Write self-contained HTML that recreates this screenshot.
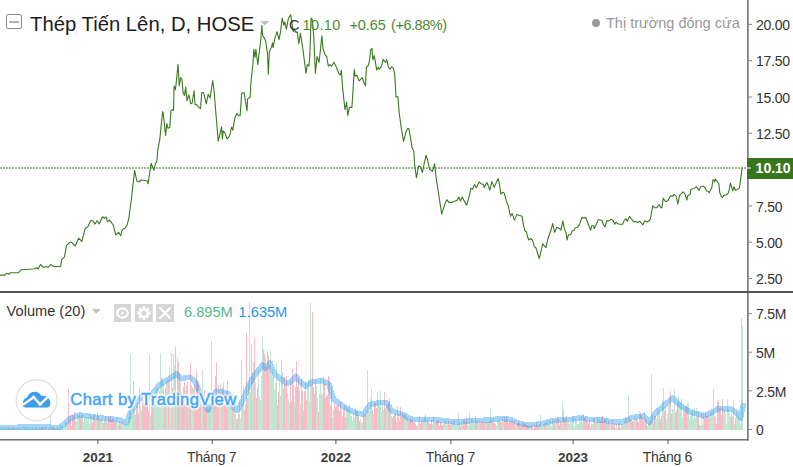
<!DOCTYPE html><html><head><meta charset="utf-8"><style>
*{margin:0;padding:0;box-sizing:border-box}
html,body{width:793px;height:467px;overflow:hidden;background:#fff}
body{position:relative;font-family:"Liberation Sans",sans-serif}
.t{position:absolute;white-space:nowrap;line-height:1}
</style></head><body>
<svg width="793" height="467" viewBox="0 0 793 467" style="position:absolute;left:0;top:0">
<circle cx="36.7" cy="400.25" r="20.5" fill="#fff" stroke="#e2e2e2" stroke-width="1.3"/>
<path d="M25.5 407.4 C23.5 407.4 22.6 405.6 22.8 403.4 C23 400.3 24.5 398.4 27 397.6 C28.3 394.6 31 391.8 34.8 391.8 C37.8 391.8 40 393.4 41.4 396.1 C42.6 395.5 44.6 395.5 46.3 396.6 C48.8 398 50.4 400.4 50.4 403 C50.4 405.6 49.4 407.4 47.6 407.4 Z" fill="#3d9ee9"/>
<path d="M23.2 404.6 L33.7 397.2 L40.1 404.3 L47.5 397.3" fill="none" stroke="#fff" stroke-width="2.3" stroke-linejoin="round"/>
<circle cx="33.7" cy="397.3" r="1.7" fill="#fff"/><circle cx="40.1" cy="404.3" r="1.7" fill="#fff"/>
<g shape-rendering="crispEdges"><rect x="0" y="427.6" width="1" height="2.8" fill="#c3e6d3"/><rect x="1" y="427.3" width="1" height="3.1" fill="#c3e6d3"/><rect x="2" y="428.2" width="1" height="2.2" fill="#c3e6d3"/><rect x="3" y="428.0" width="1" height="2.4" fill="#c3e6d3"/><rect x="4" y="427.2" width="1" height="3.2" fill="#c3e6d3"/><rect x="5" y="428.0" width="1" height="2.4" fill="#c3e6d3"/><rect x="6" y="427.8" width="1" height="2.6" fill="#c3e6d3"/><rect x="7" y="427.0" width="1" height="3.4" fill="#c3e6d3"/><rect x="8" y="427.0" width="1" height="3.4" fill="#f7bcc5"/><rect x="9" y="428.1" width="1" height="2.3" fill="#f7bcc5"/><rect x="10" y="427.8" width="1" height="2.6" fill="#c3e6d3"/><rect x="11" y="427.8" width="1" height="2.6" fill="#c3e6d3"/><rect x="12" y="427.2" width="1" height="3.2" fill="#f7bcc5"/><rect x="13" y="427.7" width="1" height="2.7" fill="#c3e6d3"/><rect x="14" y="426.7" width="1" height="3.7" fill="#c3e6d3"/><rect x="15" y="427.7" width="1" height="2.7" fill="#c3e6d3"/><rect x="16" y="428.0" width="1" height="2.4" fill="#c3e6d3"/><rect x="17" y="427.6" width="1" height="2.8" fill="#c3e6d3"/><rect x="18" y="427.7" width="1" height="2.7" fill="#c3e6d3"/><rect x="19" y="428.1" width="1" height="2.3" fill="#c3e6d3"/><rect x="20" y="427.7" width="1" height="2.7" fill="#c3e6d3"/><rect x="21" y="427.4" width="1" height="3.0" fill="#c3e6d3"/><rect x="22" y="428.7" width="1" height="1.7" fill="#c3e6d3"/><rect x="23" y="425.8" width="1" height="4.6" fill="#c3e6d3"/><rect x="24" y="426.2" width="1" height="4.2" fill="#c3e6d3"/><rect x="25" y="427.7" width="1" height="2.7" fill="#c3e6d3"/><rect x="26" y="425.8" width="1" height="4.6" fill="#c3e6d3"/><rect x="27" y="427.5" width="1" height="2.9" fill="#c3e6d3"/><rect x="28" y="426.6" width="1" height="3.8" fill="#c3e6d3"/><rect x="29" y="428.6" width="1" height="1.8" fill="#c3e6d3"/><rect x="30" y="427.2" width="1" height="3.2" fill="#c3e6d3"/><rect x="31" y="429.0" width="1" height="1.4" fill="#c3e6d3"/><rect x="32" y="426.7" width="1" height="3.7" fill="#c3e6d3"/><rect x="33" y="428.7" width="1" height="1.7" fill="#c3e6d3"/><rect x="34" y="428.2" width="1" height="2.2" fill="#c3e6d3"/><rect x="35" y="427.4" width="1" height="3.0" fill="#c3e6d3"/><rect x="36" y="426.5" width="1" height="3.9" fill="#c3e6d3"/><rect x="37" y="427.9" width="1" height="2.5" fill="#f7bcc5"/><rect x="38" y="429.0" width="1" height="1.4" fill="#c3e6d3"/><rect x="39" y="427.3" width="1" height="3.1" fill="#c3e6d3"/><rect x="40" y="428.1" width="1" height="2.3" fill="#c3e6d3"/><rect x="41" y="427.1" width="1" height="3.3" fill="#f7bcc5"/><rect x="42" y="427.9" width="1" height="2.5" fill="#f7bcc5"/><rect x="43" y="427.2" width="1" height="3.2" fill="#f7bcc5"/><rect x="44" y="428.5" width="1" height="1.9" fill="#c3e6d3"/><rect x="45" y="427.1" width="1" height="3.3" fill="#c3e6d3"/><rect x="46" y="426.5" width="1" height="3.9" fill="#c3e6d3"/><rect x="47" y="429.5" width="1" height="0.9" fill="#f7bcc5"/><rect x="48" y="427.8" width="1" height="2.6" fill="#f7bcc5"/><rect x="49" y="427.1" width="1" height="3.3" fill="#c3e6d3"/><rect x="50" y="415.0" width="1" height="15.4" fill="#c3e6d3"/><rect x="51" y="427.7" width="1" height="2.7" fill="#f7bcc5"/><rect x="52" y="427.2" width="1" height="3.2" fill="#f7bcc5"/><rect x="53" y="427.1" width="1" height="3.3" fill="#f7bcc5"/><rect x="54" y="428.0" width="1" height="2.4" fill="#f7bcc5"/><rect x="55" y="427.7" width="1" height="2.7" fill="#c3e6d3"/><rect x="56" y="427.7" width="1" height="2.7" fill="#c3e6d3"/><rect x="57" y="427.4" width="1" height="3.0" fill="#c3e6d3"/><rect x="58" y="427.7" width="1" height="2.7" fill="#c3e6d3"/><rect x="59" y="427.9" width="1" height="2.5" fill="#c3e6d3"/><rect x="60" y="425.2" width="1" height="5.2" fill="#c3e6d3"/><rect x="61" y="426.7" width="1" height="3.7" fill="#c3e6d3"/><rect x="62" y="425.5" width="1" height="4.9" fill="#c3e6d3"/><rect x="63" y="427.8" width="1" height="2.6" fill="#c3e6d3"/><rect x="64" y="426.5" width="1" height="3.9" fill="#c3e6d3"/><rect x="65" y="421.9" width="1" height="8.5" fill="#c3e6d3"/><rect x="66" y="422.9" width="1" height="7.5" fill="#c3e6d3"/><rect x="67" y="424.9" width="1" height="5.5" fill="#c3e6d3"/><rect x="68" y="389.3" width="1" height="41.1" fill="#f7bcc5"/><rect x="69" y="418.9" width="1" height="11.5" fill="#c3e6d3"/><rect x="70" y="415.6" width="1" height="14.8" fill="#f7bcc5"/><rect x="71" y="426.2" width="1" height="4.2" fill="#f7bcc5"/><rect x="72" y="414.8" width="1" height="15.6" fill="#f7bcc5"/><rect x="73" y="416.7" width="1" height="13.7" fill="#f7bcc5"/><rect x="74" y="412.3" width="1" height="18.1" fill="#f7bcc5"/><rect x="75" y="419.2" width="1" height="11.2" fill="#c3e6d3"/><rect x="76" y="422.0" width="1" height="8.4" fill="#c3e6d3"/><rect x="77" y="415.1" width="1" height="15.3" fill="#c3e6d3"/><rect x="78" y="415.6" width="1" height="14.8" fill="#c3e6d3"/><rect x="79" y="413.6" width="1" height="16.8" fill="#f7bcc5"/><rect x="80" y="417.2" width="1" height="13.2" fill="#f7bcc5"/><rect x="81" y="415.0" width="1" height="15.4" fill="#f7bcc5"/><rect x="82" y="414.0" width="1" height="16.4" fill="#c3e6d3"/><rect x="83" y="421.5" width="1" height="8.9" fill="#c3e6d3"/><rect x="84" y="418.1" width="1" height="12.3" fill="#c3e6d3"/><rect x="85" y="416.8" width="1" height="13.6" fill="#c3e6d3"/><rect x="86" y="417.2" width="1" height="13.2" fill="#c3e6d3"/><rect x="87" y="419.7" width="1" height="10.7" fill="#c3e6d3"/><rect x="88" y="417.4" width="1" height="13.0" fill="#c3e6d3"/><rect x="89" y="422.8" width="1" height="7.6" fill="#c3e6d3"/><rect x="90" y="414.3" width="1" height="16.1" fill="#c3e6d3"/><rect x="91" y="415.6" width="1" height="14.8" fill="#f7bcc5"/><rect x="92" y="423.4" width="1" height="7.0" fill="#f7bcc5"/><rect x="93" y="414.9" width="1" height="15.5" fill="#f7bcc5"/><rect x="94" y="415.0" width="1" height="15.4" fill="#f7bcc5"/><rect x="95" y="419.6" width="1" height="10.8" fill="#c3e6d3"/><rect x="96" y="418.4" width="1" height="12.0" fill="#c3e6d3"/><rect x="97" y="412.0" width="1" height="18.4" fill="#f7bcc5"/><rect x="98" y="416.1" width="1" height="14.3" fill="#f7bcc5"/><rect x="99" y="418.6" width="1" height="11.8" fill="#f7bcc5"/><rect x="100" y="420.8" width="1" height="9.6" fill="#c3e6d3"/><rect x="101" y="418.0" width="1" height="12.4" fill="#c3e6d3"/><rect x="102" y="421.0" width="1" height="9.4" fill="#c3e6d3"/><rect x="103" y="422.9" width="1" height="7.5" fill="#f7bcc5"/><rect x="104" y="419.5" width="1" height="10.9" fill="#f7bcc5"/><rect x="105" y="416.4" width="1" height="14.0" fill="#c3e6d3"/><rect x="106" y="420.7" width="1" height="9.7" fill="#c3e6d3"/><rect x="107" y="422.3" width="1" height="8.1" fill="#f7bcc5"/><rect x="108" y="416.8" width="1" height="13.6" fill="#f7bcc5"/><rect x="109" y="418.6" width="1" height="11.8" fill="#c3e6d3"/><rect x="110" y="416.3" width="1" height="14.1" fill="#f7bcc5"/><rect x="111" y="419.8" width="1" height="10.6" fill="#f7bcc5"/><rect x="112" y="418.8" width="1" height="11.6" fill="#f7bcc5"/><rect x="113" y="418.4" width="1" height="12.0" fill="#f7bcc5"/><rect x="114" y="422.1" width="1" height="8.3" fill="#f7bcc5"/><rect x="115" y="421.5" width="1" height="8.9" fill="#f7bcc5"/><rect x="116" y="417.3" width="1" height="13.1" fill="#c3e6d3"/><rect x="117" y="422.2" width="1" height="8.2" fill="#c3e6d3"/><rect x="118" y="424.7" width="1" height="5.7" fill="#c3e6d3"/><rect x="119" y="420.5" width="1" height="9.9" fill="#f7bcc5"/><rect x="120" y="423.3" width="1" height="7.1" fill="#f7bcc5"/><rect x="121" y="423.9" width="1" height="6.5" fill="#c3e6d3"/><rect x="122" y="421.1" width="1" height="9.3" fill="#c3e6d3"/><rect x="123" y="425.4" width="1" height="5.0" fill="#c3e6d3"/><rect x="124" y="423.0" width="1" height="7.4" fill="#c3e6d3"/><rect x="125" y="423.6" width="1" height="6.8" fill="#c3e6d3"/><rect x="126" y="423.9" width="1" height="6.5" fill="#c3e6d3"/><rect x="127" y="425.0" width="1" height="5.4" fill="#c3e6d3"/><rect x="128" y="416.7" width="1" height="13.7" fill="#c3e6d3"/><rect x="129" y="411.7" width="1" height="18.7" fill="#c3e6d3"/><rect x="130" y="354.0" width="1" height="76.4" fill="#c3e6d3"/><rect x="131" y="417.0" width="1" height="13.4" fill="#c3e6d3"/><rect x="132" y="415.0" width="1" height="15.4" fill="#c3e6d3"/><rect x="133" y="381.0" width="1" height="49.4" fill="#f7bcc5"/><rect x="134" y="408.8" width="1" height="21.6" fill="#c3e6d3"/><rect x="135" y="414.7" width="1" height="15.7" fill="#f7bcc5"/><rect x="136" y="405.8" width="1" height="24.6" fill="#f7bcc5"/><rect x="137" y="402.7" width="1" height="27.7" fill="#f7bcc5"/><rect x="138" y="413.3" width="1" height="17.1" fill="#f7bcc5"/><rect x="139" y="387.1" width="1" height="43.3" fill="#c3e6d3"/><rect x="140" y="406.4" width="1" height="24.0" fill="#c3e6d3"/><rect x="141" y="411.0" width="1" height="19.4" fill="#c3e6d3"/><rect x="142" y="396.8" width="1" height="33.6" fill="#f7bcc5"/><rect x="143" y="399.8" width="1" height="30.6" fill="#f7bcc5"/><rect x="144" y="403.7" width="1" height="26.7" fill="#f7bcc5"/><rect x="145" y="402.7" width="1" height="27.7" fill="#f7bcc5"/><rect x="146" y="403.9" width="1" height="26.5" fill="#f7bcc5"/><rect x="147" y="396.2" width="1" height="34.2" fill="#f7bcc5"/><rect x="148" y="410.9" width="1" height="19.5" fill="#f7bcc5"/><rect x="149" y="354.0" width="1" height="76.4" fill="#c3e6d3"/><rect x="150" y="416.4" width="1" height="14.0" fill="#c3e6d3"/><rect x="151" y="391.0" width="1" height="39.4" fill="#f7bcc5"/><rect x="152" y="393.2" width="1" height="37.2" fill="#f7bcc5"/><rect x="153" y="395.3" width="1" height="35.1" fill="#f7bcc5"/><rect x="154" y="397.7" width="1" height="32.7" fill="#c3e6d3"/><rect x="155" y="392.1" width="1" height="38.3" fill="#c3e6d3"/><rect x="156" y="388.5" width="1" height="41.9" fill="#c3e6d3"/><rect x="157" y="388.3" width="1" height="42.1" fill="#c3e6d3"/><rect x="158" y="398.2" width="1" height="32.2" fill="#c3e6d3"/><rect x="159" y="391.2" width="1" height="39.2" fill="#c3e6d3"/><rect x="160" y="353.0" width="1" height="77.4" fill="#c3e6d3"/><rect x="161" y="377.3" width="1" height="53.1" fill="#c3e6d3"/><rect x="162" y="378.1" width="1" height="52.3" fill="#c3e6d3"/><rect x="163" y="384.4" width="1" height="46.0" fill="#c3e6d3"/><rect x="164" y="397.9" width="1" height="32.5" fill="#f7bcc5"/><rect x="165" y="387.8" width="1" height="42.6" fill="#f7bcc5"/><rect x="166" y="382.3" width="1" height="48.1" fill="#c3e6d3"/><rect x="167" y="379.1" width="1" height="51.3" fill="#c3e6d3"/><rect x="168" y="380.2" width="1" height="50.2" fill="#f7bcc5"/><rect x="169" y="366.6" width="1" height="63.8" fill="#c3e6d3"/><rect x="170" y="406.8" width="1" height="23.6" fill="#c3e6d3"/><rect x="171" y="353.0" width="1" height="77.4" fill="#c3e6d3"/><rect x="172" y="387.7" width="1" height="42.7" fill="#f7bcc5"/><rect x="173" y="353.9" width="1" height="76.5" fill="#c3e6d3"/><rect x="174" y="365.9" width="1" height="64.5" fill="#c3e6d3"/><rect x="175" y="346.6" width="1" height="83.8" fill="#f7bcc5"/><rect x="176" y="400.2" width="1" height="30.2" fill="#c3e6d3"/><rect x="177" y="358.0" width="1" height="72.4" fill="#f7bcc5"/><rect x="178" y="362.0" width="1" height="68.4" fill="#f7bcc5"/><rect x="179" y="373.4" width="1" height="57.0" fill="#f7bcc5"/><rect x="180" y="381.9" width="1" height="48.5" fill="#c3e6d3"/><rect x="181" y="391.5" width="1" height="38.9" fill="#f7bcc5"/><rect x="182" y="401.3" width="1" height="29.1" fill="#f7bcc5"/><rect x="183" y="387.0" width="1" height="43.4" fill="#f7bcc5"/><rect x="184" y="381.7" width="1" height="48.7" fill="#f7bcc5"/><rect x="185" y="391.1" width="1" height="39.3" fill="#c3e6d3"/><rect x="186" y="385.5" width="1" height="44.9" fill="#f7bcc5"/><rect x="187" y="381.2" width="1" height="49.2" fill="#f7bcc5"/><rect x="188" y="397.2" width="1" height="33.2" fill="#c3e6d3"/><rect x="189" y="397.9" width="1" height="32.5" fill="#f7bcc5"/><rect x="190" y="363.2" width="1" height="67.2" fill="#f7bcc5"/><rect x="191" y="385.3" width="1" height="45.1" fill="#c3e6d3"/><rect x="192" y="386.7" width="1" height="43.7" fill="#c3e6d3"/><rect x="193" y="389.3" width="1" height="41.1" fill="#c3e6d3"/><rect x="194" y="385.3" width="1" height="45.1" fill="#f7bcc5"/><rect x="195" y="396.0" width="1" height="34.4" fill="#f7bcc5"/><rect x="196" y="369.9" width="1" height="60.5" fill="#f7bcc5"/><rect x="197" y="381.4" width="1" height="49.0" fill="#f7bcc5"/><rect x="198" y="384.1" width="1" height="46.3" fill="#f7bcc5"/><rect x="199" y="391.3" width="1" height="39.1" fill="#f7bcc5"/><rect x="200" y="396.1" width="1" height="34.3" fill="#f7bcc5"/><rect x="201" y="395.8" width="1" height="34.6" fill="#c3e6d3"/><rect x="202" y="369.5" width="1" height="60.9" fill="#c3e6d3"/><rect x="203" y="395.0" width="1" height="35.4" fill="#f7bcc5"/><rect x="204" y="390.2" width="1" height="40.2" fill="#f7bcc5"/><rect x="205" y="409.0" width="1" height="21.4" fill="#f7bcc5"/><rect x="206" y="405.0" width="1" height="25.4" fill="#f7bcc5"/><rect x="207" y="404.7" width="1" height="25.7" fill="#c3e6d3"/><rect x="208" y="407.9" width="1" height="22.5" fill="#c3e6d3"/><rect x="209" y="406.4" width="1" height="24.0" fill="#f7bcc5"/><rect x="210" y="403.6" width="1" height="26.8" fill="#c3e6d3"/><rect x="211" y="340.7" width="1" height="89.7" fill="#c3e6d3"/><rect x="212" y="396.1" width="1" height="34.3" fill="#c3e6d3"/><rect x="213" y="390.1" width="1" height="40.3" fill="#f7bcc5"/><rect x="214" y="396.6" width="1" height="33.8" fill="#f7bcc5"/><rect x="215" y="375.5" width="1" height="54.9" fill="#f7bcc5"/><rect x="216" y="362.0" width="1" height="68.4" fill="#f7bcc5"/><rect x="217" y="396.6" width="1" height="33.8" fill="#f7bcc5"/><rect x="218" y="385.0" width="1" height="45.4" fill="#f7bcc5"/><rect x="219" y="403.0" width="1" height="27.4" fill="#c3e6d3"/><rect x="220" y="382.6" width="1" height="47.8" fill="#c3e6d3"/><rect x="221" y="401.7" width="1" height="28.7" fill="#c3e6d3"/><rect x="222" y="387.1" width="1" height="43.3" fill="#f7bcc5"/><rect x="223" y="382.3" width="1" height="48.1" fill="#c3e6d3"/><rect x="224" y="395.2" width="1" height="35.2" fill="#f7bcc5"/><rect x="225" y="397.9" width="1" height="32.5" fill="#f7bcc5"/><rect x="226" y="391.0" width="1" height="39.4" fill="#f7bcc5"/><rect x="227" y="381.2" width="1" height="49.2" fill="#f7bcc5"/><rect x="228" y="396.0" width="1" height="34.4" fill="#c3e6d3"/><rect x="229" y="395.9" width="1" height="34.5" fill="#c3e6d3"/><rect x="230" y="398.7" width="1" height="31.7" fill="#c3e6d3"/><rect x="231" y="403.5" width="1" height="26.9" fill="#c3e6d3"/><rect x="232" y="393.6" width="1" height="36.8" fill="#f7bcc5"/><rect x="233" y="408.9" width="1" height="21.5" fill="#c3e6d3"/><rect x="234" y="405.3" width="1" height="25.1" fill="#c3e6d3"/><rect x="235" y="414.4" width="1" height="16.0" fill="#c3e6d3"/><rect x="236" y="419.3" width="1" height="11.1" fill="#c3e6d3"/><rect x="237" y="419.3" width="1" height="11.1" fill="#f7bcc5"/><rect x="238" y="413.8" width="1" height="16.6" fill="#f7bcc5"/><rect x="239" y="400.0" width="1" height="30.4" fill="#c3e6d3"/><rect x="240" y="418.5" width="1" height="11.9" fill="#c3e6d3"/><rect x="241" y="360.0" width="1" height="70.4" fill="#c3e6d3"/><rect x="242" y="403.1" width="1" height="27.3" fill="#c3e6d3"/><rect x="243" y="387.1" width="1" height="43.3" fill="#c3e6d3"/><rect x="244" y="410.1" width="1" height="20.3" fill="#f7bcc5"/><rect x="245" y="404.5" width="1" height="25.9" fill="#f7bcc5"/><rect x="246" y="333.0" width="1" height="97.4" fill="#f7bcc5"/><rect x="247" y="398.4" width="1" height="32.0" fill="#f7bcc5"/><rect x="248" y="383.0" width="1" height="47.4" fill="#c3e6d3"/><rect x="249" y="302.0" width="1" height="128.4" fill="#c3e6d3"/><rect x="250" y="392.0" width="1" height="38.4" fill="#c3e6d3"/><rect x="251" y="344.0" width="1" height="86.4" fill="#f7bcc5"/><rect x="252" y="372.9" width="1" height="57.5" fill="#c3e6d3"/><rect x="253" y="361.8" width="1" height="68.6" fill="#c3e6d3"/><rect x="254" y="338.0" width="1" height="92.4" fill="#f7bcc5"/><rect x="255" y="382.0" width="1" height="48.4" fill="#c3e6d3"/><rect x="256" y="397.6" width="1" height="32.8" fill="#f7bcc5"/><rect x="257" y="386.5" width="1" height="43.9" fill="#f7bcc5"/><rect x="258" y="369.5" width="1" height="60.9" fill="#c3e6d3"/><rect x="259" y="396.5" width="1" height="33.9" fill="#c3e6d3"/><rect x="260" y="399.8" width="1" height="30.6" fill="#c3e6d3"/><rect x="261" y="375.6" width="1" height="54.8" fill="#c3e6d3"/><rect x="262" y="336.1" width="1" height="94.3" fill="#c3e6d3"/><rect x="263" y="349.0" width="1" height="81.4" fill="#f7bcc5"/><rect x="264" y="352.5" width="1" height="77.9" fill="#f7bcc5"/><rect x="265" y="358.0" width="1" height="72.4" fill="#c3e6d3"/><rect x="266" y="367.4" width="1" height="63.0" fill="#f7bcc5"/><rect x="267" y="351.1" width="1" height="79.3" fill="#f7bcc5"/><rect x="268" y="355.5" width="1" height="74.9" fill="#f7bcc5"/><rect x="269" y="365.4" width="1" height="65.0" fill="#c3e6d3"/><rect x="270" y="349.9" width="1" height="80.5" fill="#c3e6d3"/><rect x="271" y="373.6" width="1" height="56.8" fill="#c3e6d3"/><rect x="272" y="369.0" width="1" height="61.4" fill="#c3e6d3"/><rect x="273" y="375.0" width="1" height="55.4" fill="#c3e6d3"/><rect x="274" y="390.0" width="1" height="40.4" fill="#c3e6d3"/><rect x="275" y="382.7" width="1" height="47.7" fill="#c3e6d3"/><rect x="276" y="363.0" width="1" height="67.4" fill="#c3e6d3"/><rect x="277" y="404.6" width="1" height="25.8" fill="#f7bcc5"/><rect x="278" y="391.9" width="1" height="38.5" fill="#f7bcc5"/><rect x="279" y="380.4" width="1" height="50.0" fill="#c3e6d3"/><rect x="280" y="395.5" width="1" height="34.9" fill="#c3e6d3"/><rect x="281" y="360.0" width="1" height="70.4" fill="#c3e6d3"/><rect x="282" y="372.0" width="1" height="58.4" fill="#c3e6d3"/><rect x="283" y="389.4" width="1" height="41.0" fill="#f7bcc5"/><rect x="284" y="376.5" width="1" height="53.9" fill="#f7bcc5"/><rect x="285" y="383.9" width="1" height="46.5" fill="#c3e6d3"/><rect x="286" y="375.7" width="1" height="54.7" fill="#f7bcc5"/><rect x="287" y="392.9" width="1" height="37.5" fill="#c3e6d3"/><rect x="288" y="399.0" width="1" height="31.4" fill="#c3e6d3"/><rect x="289" y="403.3" width="1" height="27.1" fill="#c3e6d3"/><rect x="290" y="380.5" width="1" height="49.9" fill="#f7bcc5"/><rect x="291" y="401.3" width="1" height="29.1" fill="#f7bcc5"/><rect x="292" y="369.2" width="1" height="61.2" fill="#f7bcc5"/><rect x="293" y="384.8" width="1" height="45.6" fill="#f7bcc5"/><rect x="294" y="402.4" width="1" height="28.0" fill="#c3e6d3"/><rect x="295" y="386.7" width="1" height="43.7" fill="#f7bcc5"/><rect x="296" y="360.8" width="1" height="69.6" fill="#f7bcc5"/><rect x="297" y="387.3" width="1" height="43.1" fill="#f7bcc5"/><rect x="298" y="378.2" width="1" height="52.2" fill="#f7bcc5"/><rect x="299" y="389.9" width="1" height="40.5" fill="#c3e6d3"/><rect x="300" y="404.2" width="1" height="26.2" fill="#c3e6d3"/><rect x="301" y="378.6" width="1" height="51.8" fill="#f7bcc5"/><rect x="302" y="390.8" width="1" height="39.6" fill="#f7bcc5"/><rect x="303" y="411.4" width="1" height="19.0" fill="#f7bcc5"/><rect x="304" y="390.9" width="1" height="39.5" fill="#f7bcc5"/><rect x="305" y="380.6" width="1" height="49.8" fill="#f7bcc5"/><rect x="306" y="400.0" width="1" height="30.4" fill="#f7bcc5"/><rect x="307" y="383.5" width="1" height="46.9" fill="#c3e6d3"/><rect x="308" y="379.2" width="1" height="51.2" fill="#c3e6d3"/><rect x="309" y="400.6" width="1" height="29.8" fill="#c3e6d3"/><rect x="310" y="303.0" width="1" height="127.4" fill="#c3e6d3"/><rect x="311" y="384.8" width="1" height="45.6" fill="#c3e6d3"/><rect x="312" y="312.0" width="1" height="118.4" fill="#f7bcc5"/><rect x="313" y="386.5" width="1" height="43.9" fill="#f7bcc5"/><rect x="314" y="393.8" width="1" height="36.6" fill="#f7bcc5"/><rect x="315" y="378.8" width="1" height="51.6" fill="#f7bcc5"/><rect x="316" y="385.5" width="1" height="44.9" fill="#c3e6d3"/><rect x="317" y="398.3" width="1" height="32.1" fill="#c3e6d3"/><rect x="318" y="411.6" width="1" height="18.8" fill="#f7bcc5"/><rect x="319" y="394.3" width="1" height="36.1" fill="#c3e6d3"/><rect x="320" y="378.4" width="1" height="52.0" fill="#c3e6d3"/><rect x="321" y="393.5" width="1" height="36.9" fill="#c3e6d3"/><rect x="322" y="393.7" width="1" height="36.7" fill="#c3e6d3"/><rect x="323" y="376.8" width="1" height="53.6" fill="#f7bcc5"/><rect x="324" y="384.3" width="1" height="46.1" fill="#f7bcc5"/><rect x="325" y="398.3" width="1" height="32.1" fill="#f7bcc5"/><rect x="326" y="395.7" width="1" height="34.7" fill="#f7bcc5"/><rect x="327" y="395.1" width="1" height="35.3" fill="#f7bcc5"/><rect x="328" y="375.9" width="1" height="54.5" fill="#f7bcc5"/><rect x="329" y="376.8" width="1" height="53.6" fill="#c3e6d3"/><rect x="330" y="405.5" width="1" height="24.9" fill="#f7bcc5"/><rect x="331" y="386.8" width="1" height="43.6" fill="#f7bcc5"/><rect x="332" y="417.2" width="1" height="13.2" fill="#c3e6d3"/><rect x="333" y="409.5" width="1" height="20.9" fill="#c3e6d3"/><rect x="334" y="401.7" width="1" height="28.7" fill="#f7bcc5"/><rect x="335" y="407.5" width="1" height="22.9" fill="#f7bcc5"/><rect x="336" y="405.3" width="1" height="25.1" fill="#f7bcc5"/><rect x="337" y="404.5" width="1" height="25.9" fill="#f7bcc5"/><rect x="338" y="405.3" width="1" height="25.1" fill="#f7bcc5"/><rect x="339" y="411.2" width="1" height="19.2" fill="#f7bcc5"/><rect x="340" y="401.9" width="1" height="28.5" fill="#f7bcc5"/><rect x="341" y="408.1" width="1" height="22.3" fill="#c3e6d3"/><rect x="342" y="415.5" width="1" height="14.9" fill="#f7bcc5"/><rect x="343" y="409.0" width="1" height="21.4" fill="#f7bcc5"/><rect x="344" y="405.4" width="1" height="25.0" fill="#f7bcc5"/><rect x="345" y="416.9" width="1" height="13.5" fill="#f7bcc5"/><rect x="346" y="406.5" width="1" height="23.9" fill="#c3e6d3"/><rect x="347" y="408.2" width="1" height="22.2" fill="#f7bcc5"/><rect x="348" y="409.5" width="1" height="20.9" fill="#c3e6d3"/><rect x="349" y="404.0" width="1" height="26.4" fill="#c3e6d3"/><rect x="350" y="410.1" width="1" height="20.3" fill="#c3e6d3"/><rect x="351" y="416.2" width="1" height="14.2" fill="#c3e6d3"/><rect x="352" y="420.9" width="1" height="9.5" fill="#c3e6d3"/><rect x="353" y="413.2" width="1" height="17.2" fill="#c3e6d3"/><rect x="354" y="416.5" width="1" height="13.9" fill="#c3e6d3"/><rect x="355" y="408.4" width="1" height="22.0" fill="#f7bcc5"/><rect x="356" y="412.3" width="1" height="18.1" fill="#c3e6d3"/><rect x="357" y="411.0" width="1" height="19.4" fill="#f7bcc5"/><rect x="358" y="415.1" width="1" height="15.3" fill="#f7bcc5"/><rect x="359" y="420.7" width="1" height="9.7" fill="#f7bcc5"/><rect x="360" y="418.8" width="1" height="11.6" fill="#c3e6d3"/><rect x="361" y="423.4" width="1" height="7.0" fill="#c3e6d3"/><rect x="362" y="422.7" width="1" height="7.7" fill="#c3e6d3"/><rect x="363" y="412.3" width="1" height="18.1" fill="#f7bcc5"/><rect x="364" y="415.3" width="1" height="15.1" fill="#f7bcc5"/><rect x="365" y="413.9" width="1" height="16.5" fill="#f7bcc5"/><rect x="366" y="411.3" width="1" height="19.1" fill="#c3e6d3"/><rect x="367" y="370.0" width="1" height="60.4" fill="#c3e6d3"/><rect x="368" y="411.6" width="1" height="18.8" fill="#c3e6d3"/><rect x="369" y="411.3" width="1" height="19.1" fill="#c3e6d3"/><rect x="370" y="398.6" width="1" height="31.8" fill="#c3e6d3"/><rect x="371" y="389.0" width="1" height="41.4" fill="#c3e6d3"/><rect x="372" y="410.4" width="1" height="20.0" fill="#f7bcc5"/><rect x="373" y="413.6" width="1" height="16.8" fill="#c3e6d3"/><rect x="374" y="403.3" width="1" height="27.1" fill="#f7bcc5"/><rect x="375" y="402.5" width="1" height="27.9" fill="#f7bcc5"/><rect x="376" y="407.5" width="1" height="22.9" fill="#f7bcc5"/><rect x="377" y="391.9" width="1" height="38.5" fill="#c3e6d3"/><rect x="378" y="403.5" width="1" height="26.9" fill="#c3e6d3"/><rect x="379" y="406.4" width="1" height="24.0" fill="#f7bcc5"/><rect x="380" y="390.5" width="1" height="39.9" fill="#c3e6d3"/><rect x="381" y="411.5" width="1" height="18.9" fill="#c3e6d3"/><rect x="382" y="403.9" width="1" height="26.5" fill="#c3e6d3"/><rect x="383" y="410.4" width="1" height="20.0" fill="#c3e6d3"/><rect x="384" y="392.4" width="1" height="38.0" fill="#f7bcc5"/><rect x="385" y="408.0" width="1" height="22.4" fill="#f7bcc5"/><rect x="386" y="404.0" width="1" height="26.4" fill="#c3e6d3"/><rect x="387" y="404.7" width="1" height="25.7" fill="#c3e6d3"/><rect x="388" y="403.1" width="1" height="27.3" fill="#f7bcc5"/><rect x="389" y="397.7" width="1" height="32.7" fill="#f7bcc5"/><rect x="390" y="409.3" width="1" height="21.1" fill="#c3e6d3"/><rect x="391" y="415.6" width="1" height="14.8" fill="#c3e6d3"/><rect x="392" y="418.4" width="1" height="12.0" fill="#f7bcc5"/><rect x="393" y="415.7" width="1" height="14.7" fill="#f7bcc5"/><rect x="394" y="413.6" width="1" height="16.8" fill="#f7bcc5"/><rect x="395" y="414.1" width="1" height="16.3" fill="#f7bcc5"/><rect x="396" y="421.9" width="1" height="8.5" fill="#f7bcc5"/><rect x="397" y="406.3" width="1" height="24.1" fill="#c3e6d3"/><rect x="398" y="413.7" width="1" height="16.7" fill="#f7bcc5"/><rect x="399" y="421.3" width="1" height="9.1" fill="#f7bcc5"/><rect x="400" y="407.2" width="1" height="23.2" fill="#f7bcc5"/><rect x="401" y="417.1" width="1" height="13.3" fill="#f7bcc5"/><rect x="402" y="413.2" width="1" height="17.2" fill="#f7bcc5"/><rect x="403" y="414.8" width="1" height="15.6" fill="#f7bcc5"/><rect x="404" y="413.3" width="1" height="17.1" fill="#c3e6d3"/><rect x="405" y="415.1" width="1" height="15.3" fill="#c3e6d3"/><rect x="406" y="416.8" width="1" height="13.6" fill="#c3e6d3"/><rect x="407" y="418.2" width="1" height="12.2" fill="#c3e6d3"/><rect x="408" y="421.0" width="1" height="9.4" fill="#f7bcc5"/><rect x="409" y="420.4" width="1" height="10.0" fill="#f7bcc5"/><rect x="410" y="418.4" width="1" height="12.0" fill="#f7bcc5"/><rect x="411" y="420.0" width="1" height="10.4" fill="#f7bcc5"/><rect x="412" y="419.2" width="1" height="11.2" fill="#f7bcc5"/><rect x="413" y="421.6" width="1" height="8.8" fill="#f7bcc5"/><rect x="414" y="422.1" width="1" height="8.3" fill="#f7bcc5"/><rect x="415" y="423.9" width="1" height="6.5" fill="#f7bcc5"/><rect x="416" y="426.0" width="1" height="4.4" fill="#f7bcc5"/><rect x="417" y="424.6" width="1" height="5.8" fill="#c3e6d3"/><rect x="418" y="420.8" width="1" height="9.6" fill="#c3e6d3"/><rect x="419" y="416.3" width="1" height="14.1" fill="#c3e6d3"/><rect x="420" y="423.4" width="1" height="7.0" fill="#f7bcc5"/><rect x="421" y="421.0" width="1" height="9.4" fill="#f7bcc5"/><rect x="422" y="422.2" width="1" height="8.2" fill="#f7bcc5"/><rect x="423" y="419.6" width="1" height="10.8" fill="#c3e6d3"/><rect x="424" y="415.6" width="1" height="14.8" fill="#c3e6d3"/><rect x="425" y="414.0" width="1" height="16.4" fill="#c3e6d3"/><rect x="426" y="421.8" width="1" height="8.6" fill="#c3e6d3"/><rect x="427" y="420.1" width="1" height="10.3" fill="#f7bcc5"/><rect x="428" y="422.4" width="1" height="8.0" fill="#f7bcc5"/><rect x="429" y="422.6" width="1" height="7.8" fill="#f7bcc5"/><rect x="430" y="423.9" width="1" height="6.5" fill="#f7bcc5"/><rect x="431" y="419.8" width="1" height="10.6" fill="#f7bcc5"/><rect x="432" y="423.5" width="1" height="6.9" fill="#c3e6d3"/><rect x="433" y="416.4" width="1" height="14.0" fill="#c3e6d3"/><rect x="434" y="421.9" width="1" height="8.5" fill="#c3e6d3"/><rect x="435" y="422.0" width="1" height="8.4" fill="#f7bcc5"/><rect x="436" y="420.3" width="1" height="10.1" fill="#f7bcc5"/><rect x="437" y="421.0" width="1" height="9.4" fill="#f7bcc5"/><rect x="438" y="419.6" width="1" height="10.8" fill="#f7bcc5"/><rect x="439" y="425.9" width="1" height="4.5" fill="#f7bcc5"/><rect x="440" y="421.9" width="1" height="8.5" fill="#f7bcc5"/><rect x="441" y="421.5" width="1" height="8.9" fill="#f7bcc5"/><rect x="442" y="425.1" width="1" height="5.3" fill="#f7bcc5"/><rect x="443" y="423.4" width="1" height="7.0" fill="#c3e6d3"/><rect x="444" y="420.7" width="1" height="9.7" fill="#c3e6d3"/><rect x="445" y="420.5" width="1" height="9.9" fill="#c3e6d3"/><rect x="446" y="425.3" width="1" height="5.1" fill="#c3e6d3"/><rect x="447" y="423.6" width="1" height="6.8" fill="#c3e6d3"/><rect x="448" y="421.4" width="1" height="9.0" fill="#f7bcc5"/><rect x="449" y="425.3" width="1" height="5.1" fill="#f7bcc5"/><rect x="450" y="422.6" width="1" height="7.8" fill="#f7bcc5"/><rect x="451" y="420.3" width="1" height="10.1" fill="#c3e6d3"/><rect x="452" y="423.3" width="1" height="7.1" fill="#c3e6d3"/><rect x="453" y="420.9" width="1" height="9.5" fill="#c3e6d3"/><rect x="454" y="419.8" width="1" height="10.6" fill="#c3e6d3"/><rect x="455" y="424.8" width="1" height="5.6" fill="#c3e6d3"/><rect x="456" y="424.5" width="1" height="5.9" fill="#c3e6d3"/><rect x="457" y="424.3" width="1" height="6.1" fill="#c3e6d3"/><rect x="458" y="413.0" width="1" height="17.4" fill="#c3e6d3"/><rect x="459" y="422.6" width="1" height="7.8" fill="#f7bcc5"/><rect x="460" y="425.6" width="1" height="4.8" fill="#f7bcc5"/><rect x="461" y="422.2" width="1" height="8.2" fill="#c3e6d3"/><rect x="462" y="424.2" width="1" height="6.2" fill="#c3e6d3"/><rect x="463" y="420.3" width="1" height="10.1" fill="#f7bcc5"/><rect x="464" y="417.5" width="1" height="12.9" fill="#f7bcc5"/><rect x="465" y="422.3" width="1" height="8.1" fill="#f7bcc5"/><rect x="466" y="417.2" width="1" height="13.2" fill="#f7bcc5"/><rect x="467" y="420.7" width="1" height="9.7" fill="#c3e6d3"/><rect x="468" y="426.2" width="1" height="4.2" fill="#c3e6d3"/><rect x="469" y="412.0" width="1" height="18.4" fill="#c3e6d3"/><rect x="470" y="423.3" width="1" height="7.1" fill="#c3e6d3"/><rect x="471" y="419.2" width="1" height="11.2" fill="#f7bcc5"/><rect x="472" y="418.9" width="1" height="11.5" fill="#c3e6d3"/><rect x="473" y="421.0" width="1" height="9.4" fill="#c3e6d3"/><rect x="474" y="422.6" width="1" height="7.8" fill="#c3e6d3"/><rect x="475" y="416.1" width="1" height="14.3" fill="#f7bcc5"/><rect x="476" y="420.9" width="1" height="9.5" fill="#f7bcc5"/><rect x="477" y="419.7" width="1" height="10.7" fill="#c3e6d3"/><rect x="478" y="422.5" width="1" height="7.9" fill="#c3e6d3"/><rect x="479" y="420.3" width="1" height="10.1" fill="#c3e6d3"/><rect x="480" y="423.3" width="1" height="7.1" fill="#f7bcc5"/><rect x="481" y="421.1" width="1" height="9.3" fill="#f7bcc5"/><rect x="482" y="421.6" width="1" height="8.8" fill="#f7bcc5"/><rect x="483" y="422.7" width="1" height="7.7" fill="#f7bcc5"/><rect x="484" y="422.4" width="1" height="8.0" fill="#f7bcc5"/><rect x="485" y="421.6" width="1" height="8.8" fill="#c3e6d3"/><rect x="486" y="421.6" width="1" height="8.8" fill="#c3e6d3"/><rect x="487" y="422.1" width="1" height="8.3" fill="#f7bcc5"/><rect x="488" y="422.0" width="1" height="8.4" fill="#f7bcc5"/><rect x="489" y="420.7" width="1" height="9.7" fill="#f7bcc5"/><rect x="490" y="408.0" width="1" height="22.4" fill="#c3e6d3"/><rect x="491" y="419.8" width="1" height="10.6" fill="#c3e6d3"/><rect x="492" y="422.2" width="1" height="8.2" fill="#f7bcc5"/><rect x="493" y="417.8" width="1" height="12.6" fill="#f7bcc5"/><rect x="494" y="422.7" width="1" height="7.7" fill="#f7bcc5"/><rect x="495" y="423.8" width="1" height="6.6" fill="#c3e6d3"/><rect x="496" y="425.9" width="1" height="4.5" fill="#c3e6d3"/><rect x="497" y="421.0" width="1" height="9.4" fill="#c3e6d3"/><rect x="498" y="421.4" width="1" height="9.0" fill="#c3e6d3"/><rect x="499" y="419.0" width="1" height="11.4" fill="#f7bcc5"/><rect x="500" y="420.9" width="1" height="9.5" fill="#f7bcc5"/><rect x="501" y="422.3" width="1" height="8.1" fill="#f7bcc5"/><rect x="502" y="416.8" width="1" height="13.6" fill="#c3e6d3"/><rect x="503" y="421.0" width="1" height="9.4" fill="#c3e6d3"/><rect x="504" y="417.1" width="1" height="13.3" fill="#f7bcc5"/><rect x="505" y="419.7" width="1" height="10.7" fill="#f7bcc5"/><rect x="506" y="416.8" width="1" height="13.6" fill="#f7bcc5"/><rect x="507" y="419.1" width="1" height="11.3" fill="#f7bcc5"/><rect x="508" y="422.9" width="1" height="7.5" fill="#f7bcc5"/><rect x="509" y="421.4" width="1" height="9.0" fill="#f7bcc5"/><rect x="510" y="421.4" width="1" height="9.0" fill="#f7bcc5"/><rect x="511" y="420.7" width="1" height="9.7" fill="#c3e6d3"/><rect x="512" y="420.3" width="1" height="10.1" fill="#f7bcc5"/><rect x="513" y="423.6" width="1" height="6.8" fill="#f7bcc5"/><rect x="514" y="421.0" width="1" height="9.4" fill="#f7bcc5"/><rect x="515" y="425.6" width="1" height="4.8" fill="#c3e6d3"/><rect x="516" y="424.1" width="1" height="6.3" fill="#c3e6d3"/><rect x="517" y="423.3" width="1" height="7.1" fill="#c3e6d3"/><rect x="518" y="422.2" width="1" height="8.2" fill="#f7bcc5"/><rect x="519" y="423.2" width="1" height="7.2" fill="#f7bcc5"/><rect x="520" y="424.1" width="1" height="6.3" fill="#f7bcc5"/><rect x="521" y="427.1" width="1" height="3.3" fill="#f7bcc5"/><rect x="522" y="422.1" width="1" height="8.3" fill="#f7bcc5"/><rect x="523" y="424.1" width="1" height="6.3" fill="#f7bcc5"/><rect x="524" y="423.4" width="1" height="7.0" fill="#f7bcc5"/><rect x="525" y="423.0" width="1" height="7.4" fill="#f7bcc5"/><rect x="526" y="425.1" width="1" height="5.3" fill="#f7bcc5"/><rect x="527" y="424.9" width="1" height="5.5" fill="#f7bcc5"/><rect x="528" y="426.3" width="1" height="4.1" fill="#f7bcc5"/><rect x="529" y="424.7" width="1" height="5.7" fill="#c3e6d3"/><rect x="530" y="426.1" width="1" height="4.3" fill="#c3e6d3"/><rect x="531" y="424.7" width="1" height="5.7" fill="#f7bcc5"/><rect x="532" y="426.0" width="1" height="4.4" fill="#f7bcc5"/><rect x="533" y="428.6" width="1" height="1.8" fill="#f7bcc5"/><rect x="534" y="423.8" width="1" height="6.6" fill="#f7bcc5"/><rect x="535" y="425.8" width="1" height="4.6" fill="#f7bcc5"/><rect x="536" y="422.2" width="1" height="8.2" fill="#f7bcc5"/><rect x="537" y="424.6" width="1" height="5.8" fill="#f7bcc5"/><rect x="538" y="426.7" width="1" height="3.7" fill="#f7bcc5"/><rect x="539" y="424.2" width="1" height="6.2" fill="#f7bcc5"/><rect x="540" y="415.0" width="1" height="15.4" fill="#c3e6d3"/><rect x="541" y="427.1" width="1" height="3.3" fill="#c3e6d3"/><rect x="542" y="426.1" width="1" height="4.3" fill="#c3e6d3"/><rect x="543" y="424.2" width="1" height="6.2" fill="#c3e6d3"/><rect x="544" y="423.4" width="1" height="7.0" fill="#f7bcc5"/><rect x="545" y="423.1" width="1" height="7.3" fill="#f7bcc5"/><rect x="546" y="421.9" width="1" height="8.5" fill="#c3e6d3"/><rect x="547" y="420.1" width="1" height="10.3" fill="#c3e6d3"/><rect x="548" y="423.6" width="1" height="6.8" fill="#c3e6d3"/><rect x="549" y="420.2" width="1" height="10.2" fill="#c3e6d3"/><rect x="550" y="421.7" width="1" height="8.7" fill="#c3e6d3"/><rect x="551" y="425.9" width="1" height="4.5" fill="#c3e6d3"/><rect x="552" y="419.4" width="1" height="11.0" fill="#c3e6d3"/><rect x="553" y="424.4" width="1" height="6.0" fill="#f7bcc5"/><rect x="554" y="420.0" width="1" height="10.4" fill="#f7bcc5"/><rect x="555" y="421.7" width="1" height="8.7" fill="#c3e6d3"/><rect x="556" y="419.1" width="1" height="11.3" fill="#c3e6d3"/><rect x="557" y="417.2" width="1" height="13.2" fill="#c3e6d3"/><rect x="558" y="418.9" width="1" height="11.5" fill="#f7bcc5"/><rect x="559" y="425.4" width="1" height="5.0" fill="#f7bcc5"/><rect x="560" y="420.6" width="1" height="9.8" fill="#f7bcc5"/><rect x="561" y="421.9" width="1" height="8.5" fill="#c3e6d3"/><rect x="562" y="403.4" width="1" height="27.0" fill="#c3e6d3"/><rect x="563" y="410.0" width="1" height="20.4" fill="#f7bcc5"/><rect x="564" y="418.1" width="1" height="12.3" fill="#f7bcc5"/><rect x="565" y="420.0" width="1" height="10.4" fill="#f7bcc5"/><rect x="566" y="415.6" width="1" height="14.8" fill="#f7bcc5"/><rect x="567" y="421.7" width="1" height="8.7" fill="#c3e6d3"/><rect x="568" y="421.9" width="1" height="8.5" fill="#c3e6d3"/><rect x="569" y="423.8" width="1" height="6.6" fill="#c3e6d3"/><rect x="570" y="421.5" width="1" height="8.9" fill="#c3e6d3"/><rect x="571" y="423.0" width="1" height="7.4" fill="#c3e6d3"/><rect x="572" y="415.8" width="1" height="14.6" fill="#c3e6d3"/><rect x="573" y="416.7" width="1" height="13.7" fill="#c3e6d3"/><rect x="574" y="426.9" width="1" height="3.5" fill="#c3e6d3"/><rect x="575" y="417.9" width="1" height="12.5" fill="#c3e6d3"/><rect x="576" y="420.1" width="1" height="10.3" fill="#c3e6d3"/><rect x="577" y="423.5" width="1" height="6.9" fill="#c3e6d3"/><rect x="578" y="423.6" width="1" height="6.8" fill="#c3e6d3"/><rect x="579" y="416.8" width="1" height="13.6" fill="#c3e6d3"/><rect x="580" y="418.7" width="1" height="11.7" fill="#c3e6d3"/><rect x="581" y="415.9" width="1" height="14.5" fill="#c3e6d3"/><rect x="582" y="421.7" width="1" height="8.7" fill="#c3e6d3"/><rect x="583" y="414.0" width="1" height="16.4" fill="#f7bcc5"/><rect x="584" y="418.2" width="1" height="12.2" fill="#f7bcc5"/><rect x="585" y="417.1" width="1" height="13.3" fill="#f7bcc5"/><rect x="586" y="419.7" width="1" height="10.7" fill="#f7bcc5"/><rect x="587" y="421.6" width="1" height="8.8" fill="#f7bcc5"/><rect x="588" y="423.3" width="1" height="7.1" fill="#f7bcc5"/><rect x="589" y="420.1" width="1" height="10.3" fill="#f7bcc5"/><rect x="590" y="427.1" width="1" height="3.3" fill="#f7bcc5"/><rect x="591" y="422.8" width="1" height="7.6" fill="#c3e6d3"/><rect x="592" y="424.3" width="1" height="6.1" fill="#c3e6d3"/><rect x="593" y="418.4" width="1" height="12.0" fill="#c3e6d3"/><rect x="594" y="417.9" width="1" height="12.5" fill="#f7bcc5"/><rect x="595" y="422.1" width="1" height="8.3" fill="#c3e6d3"/><rect x="596" y="422.1" width="1" height="8.3" fill="#c3e6d3"/><rect x="597" y="416.8" width="1" height="13.6" fill="#c3e6d3"/><rect x="598" y="420.2" width="1" height="10.2" fill="#c3e6d3"/><rect x="599" y="417.0" width="1" height="13.4" fill="#c3e6d3"/><rect x="600" y="421.1" width="1" height="9.3" fill="#f7bcc5"/><rect x="601" y="419.3" width="1" height="11.1" fill="#f7bcc5"/><rect x="602" y="415.8" width="1" height="14.6" fill="#f7bcc5"/><rect x="603" y="422.2" width="1" height="8.2" fill="#f7bcc5"/><rect x="604" y="419.2" width="1" height="11.2" fill="#f7bcc5"/><rect x="605" y="419.8" width="1" height="10.6" fill="#f7bcc5"/><rect x="606" y="417.3" width="1" height="13.1" fill="#c3e6d3"/><rect x="607" y="424.2" width="1" height="6.2" fill="#f7bcc5"/><rect x="608" y="420.6" width="1" height="9.8" fill="#f7bcc5"/><rect x="609" y="422.4" width="1" height="8.0" fill="#c3e6d3"/><rect x="610" y="424.0" width="1" height="6.4" fill="#c3e6d3"/><rect x="611" y="423.4" width="1" height="7.0" fill="#f7bcc5"/><rect x="612" y="420.4" width="1" height="10.0" fill="#f7bcc5"/><rect x="613" y="425.6" width="1" height="4.8" fill="#f7bcc5"/><rect x="614" y="422.5" width="1" height="7.9" fill="#f7bcc5"/><rect x="615" y="427.8" width="1" height="2.6" fill="#c3e6d3"/><rect x="616" y="424.3" width="1" height="6.1" fill="#c3e6d3"/><rect x="617" y="427.9" width="1" height="2.5" fill="#f7bcc5"/><rect x="618" y="424.0" width="1" height="6.4" fill="#f7bcc5"/><rect x="619" y="422.7" width="1" height="7.7" fill="#f7bcc5"/><rect x="620" y="427.9" width="1" height="2.5" fill="#f7bcc5"/><rect x="621" y="423.6" width="1" height="6.8" fill="#c3e6d3"/><rect x="622" y="424.2" width="1" height="6.2" fill="#c3e6d3"/><rect x="623" y="423.7" width="1" height="6.7" fill="#c3e6d3"/><rect x="624" y="420.9" width="1" height="9.5" fill="#c3e6d3"/><rect x="625" y="418.2" width="1" height="12.2" fill="#c3e6d3"/><rect x="626" y="417.8" width="1" height="12.6" fill="#f7bcc5"/><rect x="627" y="421.9" width="1" height="8.5" fill="#c3e6d3"/><rect x="628" y="394.7" width="1" height="35.7" fill="#c3e6d3"/><rect x="629" y="417.0" width="1" height="13.4" fill="#c3e6d3"/><rect x="630" y="419.8" width="1" height="10.6" fill="#f7bcc5"/><rect x="631" y="420.8" width="1" height="9.6" fill="#f7bcc5"/><rect x="632" y="421.3" width="1" height="9.1" fill="#f7bcc5"/><rect x="633" y="421.3" width="1" height="9.1" fill="#f7bcc5"/><rect x="634" y="416.1" width="1" height="14.3" fill="#c3e6d3"/><rect x="635" y="420.0" width="1" height="10.4" fill="#c3e6d3"/><rect x="636" y="417.7" width="1" height="12.7" fill="#f7bcc5"/><rect x="637" y="421.0" width="1" height="9.4" fill="#f7bcc5"/><rect x="638" y="421.6" width="1" height="8.8" fill="#f7bcc5"/><rect x="639" y="410.5" width="1" height="19.9" fill="#c3e6d3"/><rect x="640" y="411.5" width="1" height="18.9" fill="#f7bcc5"/><rect x="641" y="414.8" width="1" height="15.6" fill="#f7bcc5"/><rect x="642" y="417.9" width="1" height="12.5" fill="#f7bcc5"/><rect x="643" y="421.0" width="1" height="9.4" fill="#f7bcc5"/><rect x="644" y="412.2" width="1" height="18.2" fill="#c3e6d3"/><rect x="645" y="419.7" width="1" height="10.7" fill="#f7bcc5"/><rect x="646" y="420.1" width="1" height="10.3" fill="#f7bcc5"/><rect x="647" y="425.8" width="1" height="4.6" fill="#c3e6d3"/><rect x="648" y="422.8" width="1" height="7.6" fill="#c3e6d3"/><rect x="649" y="420.6" width="1" height="9.8" fill="#c3e6d3"/><rect x="650" y="419.6" width="1" height="10.8" fill="#c3e6d3"/><rect x="651" y="374.2" width="1" height="56.2" fill="#c3e6d3"/><rect x="652" y="414.7" width="1" height="15.7" fill="#c3e6d3"/><rect x="653" y="422.3" width="1" height="8.1" fill="#f7bcc5"/><rect x="654" y="416.4" width="1" height="14.0" fill="#f7bcc5"/><rect x="655" y="415.5" width="1" height="14.9" fill="#c3e6d3"/><rect x="656" y="418.9" width="1" height="11.5" fill="#c3e6d3"/><rect x="657" y="407.3" width="1" height="23.1" fill="#c3e6d3"/><rect x="658" y="412.4" width="1" height="18.0" fill="#c3e6d3"/><rect x="659" y="409.8" width="1" height="20.6" fill="#c3e6d3"/><rect x="660" y="419.0" width="1" height="11.4" fill="#f7bcc5"/><rect x="661" y="415.8" width="1" height="14.6" fill="#f7bcc5"/><rect x="662" y="399.9" width="1" height="30.5" fill="#c3e6d3"/><rect x="663" y="388.0" width="1" height="42.4" fill="#c3e6d3"/><rect x="664" y="409.7" width="1" height="20.7" fill="#f7bcc5"/><rect x="665" y="406.8" width="1" height="23.6" fill="#f7bcc5"/><rect x="666" y="419.3" width="1" height="11.1" fill="#c3e6d3"/><rect x="667" y="414.3" width="1" height="16.1" fill="#c3e6d3"/><rect x="668" y="405.2" width="1" height="25.2" fill="#c3e6d3"/><rect x="669" y="397.5" width="1" height="32.9" fill="#c3e6d3"/><rect x="670" y="391.0" width="1" height="39.4" fill="#f7bcc5"/><rect x="671" y="414.2" width="1" height="16.2" fill="#f7bcc5"/><rect x="672" y="409.4" width="1" height="21.0" fill="#c3e6d3"/><rect x="673" y="409.0" width="1" height="21.4" fill="#c3e6d3"/><rect x="674" y="389.4" width="1" height="41.0" fill="#c3e6d3"/><rect x="675" y="412.1" width="1" height="18.3" fill="#f7bcc5"/><rect x="676" y="409.6" width="1" height="20.8" fill="#f7bcc5"/><rect x="677" y="402.1" width="1" height="28.3" fill="#f7bcc5"/><rect x="678" y="396.2" width="1" height="34.2" fill="#c3e6d3"/><rect x="679" y="402.6" width="1" height="27.8" fill="#c3e6d3"/><rect x="680" y="402.6" width="1" height="27.8" fill="#c3e6d3"/><rect x="681" y="398.7" width="1" height="31.7" fill="#c3e6d3"/><rect x="682" y="417.1" width="1" height="13.3" fill="#c3e6d3"/><rect x="683" y="405.9" width="1" height="24.5" fill="#c3e6d3"/><rect x="684" y="411.5" width="1" height="18.9" fill="#f7bcc5"/><rect x="685" y="405.6" width="1" height="24.8" fill="#f7bcc5"/><rect x="686" y="406.2" width="1" height="24.2" fill="#f7bcc5"/><rect x="687" y="403.2" width="1" height="27.2" fill="#c3e6d3"/><rect x="688" y="402.7" width="1" height="27.7" fill="#c3e6d3"/><rect x="689" y="417.8" width="1" height="12.6" fill="#c3e6d3"/><rect x="690" y="416.4" width="1" height="14.0" fill="#c3e6d3"/><rect x="691" y="411.9" width="1" height="18.5" fill="#c3e6d3"/><rect x="692" y="408.2" width="1" height="22.2" fill="#c3e6d3"/><rect x="693" y="418.0" width="1" height="12.4" fill="#c3e6d3"/><rect x="694" y="408.5" width="1" height="21.9" fill="#c3e6d3"/><rect x="695" y="418.3" width="1" height="12.1" fill="#c3e6d3"/><rect x="696" y="408.2" width="1" height="22.2" fill="#c3e6d3"/><rect x="697" y="416.1" width="1" height="14.3" fill="#f7bcc5"/><rect x="698" y="411.5" width="1" height="18.9" fill="#f7bcc5"/><rect x="699" y="424.5" width="1" height="5.9" fill="#f7bcc5"/><rect x="700" y="424.5" width="1" height="5.9" fill="#c3e6d3"/><rect x="701" y="412.8" width="1" height="17.6" fill="#c3e6d3"/><rect x="702" y="425.4" width="1" height="5.0" fill="#c3e6d3"/><rect x="703" y="412.4" width="1" height="18.0" fill="#c3e6d3"/><rect x="704" y="418.3" width="1" height="12.1" fill="#f7bcc5"/><rect x="705" y="412.8" width="1" height="17.6" fill="#f7bcc5"/><rect x="706" y="415.9" width="1" height="14.5" fill="#f7bcc5"/><rect x="707" y="415.9" width="1" height="14.5" fill="#f7bcc5"/><rect x="708" y="414.7" width="1" height="15.7" fill="#f7bcc5"/><rect x="709" y="416.4" width="1" height="14.0" fill="#c3e6d3"/><rect x="710" y="411.5" width="1" height="18.9" fill="#c3e6d3"/><rect x="711" y="411.6" width="1" height="18.8" fill="#c3e6d3"/><rect x="712" y="411.5" width="1" height="18.9" fill="#c3e6d3"/><rect x="713" y="388.5" width="1" height="41.9" fill="#c3e6d3"/><rect x="714" y="415.5" width="1" height="14.9" fill="#f7bcc5"/><rect x="715" y="417.3" width="1" height="13.1" fill="#c3e6d3"/><rect x="716" y="424.2" width="1" height="6.2" fill="#f7bcc5"/><rect x="717" y="402.4" width="1" height="28.0" fill="#f7bcc5"/><rect x="718" y="400.0" width="1" height="30.4" fill="#f7bcc5"/><rect x="719" y="408.2" width="1" height="22.2" fill="#f7bcc5"/><rect x="720" y="408.0" width="1" height="22.4" fill="#f7bcc5"/><rect x="721" y="415.3" width="1" height="15.1" fill="#f7bcc5"/><rect x="722" y="399.0" width="1" height="31.4" fill="#f7bcc5"/><rect x="723" y="409.1" width="1" height="21.3" fill="#c3e6d3"/><rect x="724" y="410.4" width="1" height="20.0" fill="#c3e6d3"/><rect x="725" y="413.3" width="1" height="17.1" fill="#c3e6d3"/><rect x="726" y="424.0" width="1" height="6.4" fill="#c3e6d3"/><rect x="727" y="399.3" width="1" height="31.1" fill="#c3e6d3"/><rect x="728" y="409.2" width="1" height="21.2" fill="#c3e6d3"/><rect x="729" y="413.1" width="1" height="17.3" fill="#c3e6d3"/><rect x="730" y="416.5" width="1" height="13.9" fill="#c3e6d3"/><rect x="731" y="413.8" width="1" height="16.6" fill="#f7bcc5"/><rect x="732" y="416.8" width="1" height="13.6" fill="#f7bcc5"/><rect x="733" y="400.0" width="1" height="30.4" fill="#c3e6d3"/><rect x="734" y="424.0" width="1" height="6.4" fill="#c3e6d3"/><rect x="735" y="417.9" width="1" height="12.5" fill="#f7bcc5"/><rect x="736" y="412.4" width="1" height="18.0" fill="#c3e6d3"/><rect x="737" y="416.8" width="1" height="13.6" fill="#c3e6d3"/><rect x="738" y="413.5" width="1" height="16.9" fill="#c3e6d3"/><rect x="739" y="416.6" width="1" height="13.8" fill="#c3e6d3"/><rect x="740" y="424.0" width="1" height="6.4" fill="#c3e6d3"/><rect x="741" y="318.4" width="1" height="112.0" fill="#c3e6d3"/><rect x="742" y="325.0" width="1" height="105.4" fill="#c3e6d3"/></g>
<path d="M0 427.3 L40 427.2 L59.7 427.3 L64 424.5 L69.6 418.8 L79.4 414.9 L87.3 415.9 L99.1 417.8 L118.8 419.8 L126.7 422.8 L130.6 411.9 L136.6 403 L142.5 395.2 L150 396.8 L159.6 384.8 L169.2 378.8 L176.4 374 L181.2 378.8 L186 377.6 L190 377.2 L195.3 381.6 L198.8 390.4 L205.8 406.1 L208.4 410 L211 402.6 L216.3 391.2 L223.3 392.1 L228.6 393.9 L233.9 407.9 L237.4 410.5 L242.6 400.9 L249.1 385 L254.3 375.3 L259.4 368.9 L262.6 365 L265.8 368.3 L270.3 363.1 L273.6 372.1 L276.1 375.3 L281.3 379.2 L286.4 383.1 L290.3 382.4 L296.1 376 L299.3 381.1 L305.2 386.2 L312.3 381.9 L322.1 380.5 L329.2 384.7 L333.4 398.9 L344.7 407.3 L356 413 L363.1 414.4 L370.2 404.5 L379.8 402.5 L386.4 402.5 L391.9 410.9 L398.4 413.1 L402.8 414.2 L409.3 418.5 L413.7 419.6 L435.6 419.6 L444.3 420.7 L453.1 421.8 L461.8 421.8 L470.5 420.7 L490 420 L501.8 418.4 L510.6 419.5 L519.3 423.4 L528 425 L541.1 423.9 L549.9 421.3 L563 419.5 L571.7 419.5 L580.4 417.5 L589.2 419.5 L602.3 420 L610 421.6 L621.3 422.2 L632.6 417.4 L643.9 416 L649.6 422.5 L655.2 413.1 L663.7 406 L672.5 397.7 L679 404.4 L690.5 412.5 L698.7 414 L703.3 416 L711.8 412.5 L718.4 408.4 L731.5 409.2 L738 414 L740.5 418 L743.8 403" fill="none" stroke="rgba(33,150,243,0.4)" stroke-width="5.5" stroke-linejoin="round" shape-rendering="crispEdges"/>
<line x1="0" y1="168" x2="747.5" y2="168" stroke="#38761d" stroke-width="1" stroke-dasharray="2 1" opacity="1"/>
<path d="M0 275.1 L4.8 275.1 L6.7 273.2 L8.7 274.2 L10.6 272.8 L18.3 272.8 L21.2 269.7 L33.7 269 L36.6 267.8 L38.2 269 L40.5 264.5 L43.4 267.4 L46.2 266.5 L48.2 267.4 L50.5 264.5 L54 266.5 L60.7 266.5 L61.7 259.7 L64.5 256.8 L66.5 245.3 L70.3 242 L72.3 242.8 L75.1 246.2 L78.6 238.2 L81.9 241.4 L85.2 228.5 L87.7 227 L90.9 220.2 L93.4 221.2 L94.8 224.1 L97.1 220.7 L99.3 223.9 L102.5 216.8 L104.6 218.5 L106.1 216.8 L107.4 221.7 L109.6 220.2 L113.2 224.9 L115.8 235.2 L118.6 232.4 L120.7 235.7 L122.4 229.2 L125 228.2 L127.1 224.9 L128.8 218.5 L131.4 199.3 L134.6 170.3 L136.8 181 L138.9 182.1 L141 180 L147.5 181 L148.1 183.8 L151.1 163.3 L153.9 170.3 L155.4 163.9 L156.9 161.3 L157.8 149.6 L159.7 140.1 L162.6 111.6 L163.2 112.8 L165.6 135.4 L166.8 123.6 L168 128.3 L169.8 127.2 L170.9 110.9 L172.2 109.6 L173.5 110.3 L174.1 85.8 L175.4 89.7 L176.7 78.1 L178 64.3 L179.3 85.8 L180.6 77.5 L181.9 79.4 L183.1 92.3 L184.4 95.5 L185.7 87.1 L187 100.6 L188.9 94.8 L190.8 103.8 L192.1 103.2 L194.1 90.7 L195 104.5 L196.6 104.5 L197.9 106.4 L200.5 108.7 L201.8 92.3 L203.7 92.9 L206.3 103.8 L208.2 94.2 L210.1 98.1 L212.7 80.7 L214 90 L218.2 141.3 L221.6 127 L222.4 139 L223.2 131 L224.8 132.6 L227.2 139 L229.6 135.8 L231.6 127 L232.8 130.2 L234.8 118.2 L236.9 113.3 L238.5 115.7 L240.1 115.7 L241.7 93.3 L244.1 92.5 L247 110.9 L247.6 98.9 L250.2 97.3 L250.8 83.8 L253 63 L253.8 49.3 L255 57.4 L255.9 49.3 L257.8 64.6 L260.7 40.5 L261.9 25.2 L262.7 35.7 L263.9 37.3 L265.5 40.5 L267.5 53.3 L268.3 74.2 L269.4 51.7 L271.5 46.9 L272.6 42.9 L273.1 47.7 L274.7 38.9 L277.1 31.7 L279 39.7 L280.6 31.7 L282.2 18 L283.8 25.2 L284.8 22 L286.4 29.3 L288.3 18.8 L289.6 16.4 L290.7 14.8 L293.2 31.7 L294.8 30.1 L296 32.5 L297.2 31.7 L298.8 43.7 L300.4 33.3 L302.8 48.5 L306 73.4 L307.3 64.6 L308.9 66.2 L309.8 56.5 L311.1 18 L312.2 19.6 L313.8 37.3 L315.4 73.4 L317 56.5 L319.1 62.2 L321.9 35.7 L323 48.5 L325.1 54.9 L326.7 56.5 L328.3 66.2 L329.9 64.6 L331.5 66.2 L333.9 62.2 L336.3 67 L338.7 73.4 L340.3 75 L341.4 70.4 L342.7 88.9 L345 109.8 L346.6 102 L347.8 115.4 L349.4 107.4 L351.9 107.4 L352.7 95.3 L354.3 69.6 L355.1 76 L356.7 75.2 L359.1 80.9 L362.3 77.7 L363.9 82.5 L365.5 85.7 L366.4 67.1 L368.1 65.8 L369 63.3 L370.1 55.6 L370.7 49.6 L372 48.3 L372.8 59.8 L374.1 55.6 L375 59.8 L376.7 70.1 L378 67.1 L379.3 69.3 L381.4 66.7 L383.1 59.4 L384.8 61.6 L385.7 62.4 L386.7 59.4 L388.3 66.7 L390 69.3 L391.7 66.7 L393.4 68.4 L394.7 74.4 L395.2 82.5 L396 96.9 L397.9 96.9 L399.2 113 L401.4 128.6 L403.6 141.4 L405.7 132.8 L407.4 128.6 L408.9 128.6 L410.4 137.1 L412.1 147.8 L413.8 151 L414.7 165 L416.4 177.8 L418.6 166 L420.7 167.1 L422.4 172.5 L423.9 165 L426 155.3 L427.5 159.6 L429.7 169.3 L432.5 171.4 L434.6 163.9 L436.1 177.8 L437.8 188.5 L441.7 214.2 L444.7 204.6 L446.8 199.7 L449 202.4 L451.7 202.4 L453.9 201.4 L457.1 200.3 L458.8 197.1 L460.3 201 L462.3 197 L464.2 200.9 L466.7 205.1 L469.6 195.1 L470.6 188.3 L472.5 189.3 L474.5 184.5 L476.4 187.7 L479.3 182 L481.2 183.9 L483.5 184.5 L484.1 187.4 L487 182.5 L489.9 190.2 L491.8 181.6 L494.3 187.4 L496.6 181.6 L498.2 178.7 L499.5 184.5 L500.9 194.1 L502.8 192.2 L504.3 193.1 L506.3 200.9 L508.2 205.7 L510.5 216.3 L512.1 213.4 L514.4 220.1 L516.9 214.4 L518.8 215.3 L522.1 216.3 L523.6 225.9 L525 231 L526.5 231.7 L527.2 235.5 L528.7 240 L530.7 238.5 L532.5 240 L534.3 246.7 L535.8 247.5 L537.3 252 L539.2 258.7 L541.2 250.5 L542.7 243.7 L544.2 246 L546 247.5 L547.5 240 L549.3 234.7 L551.2 229.5 L552.7 223.5 L554.7 232.5 L556.8 227.2 L559.8 228.7 L561 230.2 L562.8 220.8 L564.3 228.7 L566.2 233.2 L567 240 L568.5 234.7 L570.7 234.7 L572.2 231 L574.2 230.2 L575.2 228 L577.5 227.2 L579.7 224.2 L582 217.2 L583.8 218.2 L585.7 217.2 L588 223.5 L590.7 230.2 L591.7 225.7 L593.7 225.7 L594.2 228.7 L596 225 L598.2 219.7 L599.7 219.7 L602 220.5 L603.5 225 L605 226.8 L606.8 220.5 L608.7 221.2 L611 219.3 L613.2 220.5 L614.7 224.2 L615.8 222.3 L617.7 223.5 L619.2 224.2 L622.7 224.2 L623.7 221.2 L626 218.7 L627.2 221.2 L629.7 216.3 L632 219.7 L633.8 222 L635.7 221.2 L638 222.7 L639.8 221.2 L642.8 225 L644.7 220.8 L647 222 L649.7 220.5 L650.7 217.5 L652.7 205.8 L654.5 207.7 L656.8 207.6 L659.1 204.5 L660.9 208 L662.1 207.1 L663.2 198.2 L665.6 201.8 L667.9 200.6 L670.3 195.9 L672.4 196.5 L674.4 194.4 L676.2 196.5 L677.9 204.1 L679.5 195.3 L680.9 194.1 L683.2 191.8 L685 194.1 L686.8 200 L687.9 195.3 L690.1 194.4 L690.9 189.4 L692.6 188.8 L694.4 188.5 L696.2 186.5 L699.1 190.4 L700.3 187.1 L702.1 186.5 L703.5 186.2 L705.3 188 L706.5 190.9 L708.2 191.5 L709.4 192.6 L710.8 189.1 L711.8 187.9 L712.9 179.7 L714.1 180.3 L714.7 182.1 L715.3 179.1 L717.4 181.5 L718.8 183.8 L719.8 192.6 L721.2 196.2 L722.6 197.6 L723.5 195.6 L725.9 195 L728.2 193.2 L729.4 189.1 L730.4 183.2 L731.5 186.2 L732.7 190.9 L734.1 186.8 L735.3 190.3 L737.4 189.4 L739.4 187.9 L740 184.4 L742.1 167.9" fill="none" stroke="#3a7a20" stroke-width="1.1" stroke-linejoin="round"/>
<rect x="747" y="0" width="1" height="440.5" fill="#808080"/><rect x="748" y="0" width="1" height="440.5" fill="#9c9c9c"/>
<rect x="0" y="291" width="793" height="2" fill="#555"/>
<rect x="0" y="439.1" width="748.6" height="1.4" fill="#666"/>
<rect x="748" y="23.9" width="4" height="1" fill="#888"/>
<rect x="748" y="60.2" width="4" height="1" fill="#888"/>
<rect x="748" y="96.5" width="4" height="1" fill="#888"/>
<rect x="748" y="132.8" width="4" height="1" fill="#888"/>
<rect x="748" y="205.4" width="4" height="1" fill="#888"/>
<rect x="748" y="241.7" width="4" height="1" fill="#888"/>
<rect x="748" y="278.0" width="4" height="1" fill="#888"/>
<rect x="748" y="313.1" width="4" height="1" fill="#888"/>
<rect x="748" y="351.7" width="4" height="1" fill="#888"/>
<rect x="748" y="390.3" width="4" height="1" fill="#888"/>
<rect x="748" y="428.9" width="4" height="1" fill="#888"/>
<rect x="97.4" y="440" width="1" height="4" fill="#555"/>
<rect x="211.7" y="440" width="1" height="4" fill="#555"/>
<rect x="335.4" y="440" width="1" height="4" fill="#555"/>
<rect x="450.4" y="440" width="1" height="4" fill="#555"/>
<rect x="572.6" y="440" width="1" height="4" fill="#555"/>
<rect x="667.5" y="440" width="1" height="4" fill="#555"/>
<rect x="747" y="158" width="46" height="21" fill="#38761d"/>
<rect x="747" y="167.5" width="4" height="1" fill="#fff"/>
</svg>
<div style="position:absolute;left:6.3px;top:14.1px;width:15.4px;height:15.1px;border:1px solid #8a8a8a;border-radius:2px"><div style="position:absolute;left:2px;top:6px;width:9.4px;height:1.6px;background:#b4b4b4"></div></div>
<div class="t" id="title" style="left:30px;top:14px;font-size:20.3px;color:#1c1c1c">Thép Tiến Lên, D, HOSE</div>
<svg style="position:absolute;left:260px;top:21px" width="10" height="5"><path d="M0 0 L9.6 0 L4.8 4.5 Z" fill="#c2c2c2"/></svg>
<div class="t" id="lc" style="left:289px;top:18px;font-size:14.5px;color:#333">C</div>
<div class="t" id="lv" style="left:302.5px;top:18px;font-size:14.5px;letter-spacing:0.4px;color:#4f8a2f">10.10</div>
<div class="t" id="lch" style="left:349.5px;top:18px;font-size:14.5px;letter-spacing:-0.1px;color:#4f8a2f">+0.65</div>
<div class="t" id="lpc" style="left:391px;top:18px;font-size:14.5px;letter-spacing:-0.45px;color:#4f8a2f">(+6.88%)</div>
<div style="position:absolute;left:592px;top:18.5px;width:8px;height:8px;border-radius:50%;background:#999"></div>
<div class="t" id="mc" style="left:606px;top:15.8px;font-size:14.5px;color:#999">Thị trường đóng cửa</div>
<div class="t" style="left:755.9px;top:18.1px;font-size:14px;letter-spacing:-0.2px;color:#333">20.00</div>
<div class="t" style="left:755.9px;top:54.4px;font-size:14px;letter-spacing:-0.2px;color:#333">17.50</div>
<div class="t" style="left:755.9px;top:90.7px;font-size:14px;letter-spacing:-0.2px;color:#333">15.00</div>
<div class="t" style="left:755.9px;top:127.0px;font-size:14px;letter-spacing:-0.2px;color:#333">12.50</div>
<div class="t" style="left:755.9px;top:199.6px;font-size:14px;letter-spacing:-0.2px;color:#333">7.50</div>
<div class="t" style="left:755.9px;top:235.9px;font-size:14px;letter-spacing:-0.2px;color:#333">5.00</div>
<div class="t" style="left:755.9px;top:272.2px;font-size:14px;letter-spacing:-0.2px;color:#333">2.50</div>
<div class="t" style="left:755.9px;top:307.3px;font-size:14px;letter-spacing:-0.2px;color:#333">7.5M</div>
<div class="t" style="left:755.9px;top:345.9px;font-size:14px;letter-spacing:-0.2px;color:#333">5M</div>
<div class="t" style="left:755.9px;top:384.5px;font-size:14px;letter-spacing:-0.2px;color:#333">2.5M</div>
<div class="t" style="left:755.9px;top:423.1px;font-size:14px;letter-spacing:-0.2px;color:#333">0</div>
<div class="t" style="left:755.6px;top:161px;font-size:14px;font-weight:bold;color:#fff">10.10</div>
<div class="t" style="left:37.9px;width:120px;text-align:center;top:450.6px;font-size:13.5px;font-weight:bold;color:#3a3a3a">2021</div>
<div class="t" style="left:151.6px;width:120px;text-align:center;top:450.2px;font-size:14px;letter-spacing:-0.3px;font-weight:normal;color:#3a3a3a">Tháng 7</div>
<div class="t" style="left:275.9px;width:120px;text-align:center;top:450.6px;font-size:13.5px;font-weight:bold;color:#3a3a3a">2022</div>
<div class="t" style="left:390.3px;width:120px;text-align:center;top:450.2px;font-size:14px;letter-spacing:-0.3px;font-weight:normal;color:#3a3a3a">Tháng 7</div>
<div class="t" style="left:513.1px;width:120px;text-align:center;top:450.6px;font-size:13.5px;font-weight:bold;color:#3a3a3a">2023</div>
<div class="t" style="left:607.4px;width:120px;text-align:center;top:450.2px;font-size:14px;letter-spacing:-0.3px;font-weight:normal;color:#3a3a3a">Tháng 6</div>
<div class="t" id="vl" style="left:6.6px;top:304.3px;font-size:14.6px;color:#333">Volume (20)</div>
<svg style="position:absolute;left:91.7px;top:309px" width="9" height="6"><path d="M0 0 L8.5 0 L4.25 5 Z" fill="#c2c2c2"/></svg>
<svg style="position:absolute;left:0;top:0" width="200" height="330"><rect x="114" y="304" width="17" height="18" fill="#d6d6d6"/><rect x="135" y="304" width="17.8" height="18" fill="#d6d6d6"/><rect x="156" y="304" width="18" height="18" fill="#d6d6d6"/><ellipse cx="122.5" cy="313" rx="5.2" ry="4.6" fill="none" stroke="#fff" stroke-width="2.3"/><circle cx="122.5" cy="313" r="1.5" fill="#fff"/><g transform="translate(143.9 313)"><circle r="4.5" fill="#fff"/><rect x="-1.5" y="-6.6" width="3" height="3" fill="#fff" transform="rotate(0)"/><rect x="-1.5" y="-6.6" width="3" height="3" fill="#fff" transform="rotate(45)"/><rect x="-1.5" y="-6.6" width="3" height="3" fill="#fff" transform="rotate(90)"/><rect x="-1.5" y="-6.6" width="3" height="3" fill="#fff" transform="rotate(135)"/><rect x="-1.5" y="-6.6" width="3" height="3" fill="#fff" transform="rotate(180)"/><rect x="-1.5" y="-6.6" width="3" height="3" fill="#fff" transform="rotate(225)"/><rect x="-1.5" y="-6.6" width="3" height="3" fill="#fff" transform="rotate(270)"/><rect x="-1.5" y="-6.6" width="3" height="3" fill="#fff" transform="rotate(315)"/><circle r="2.5" fill="#d6d6d6"/></g><path d="M159.5 307.5 L170.5 318.7 M170.5 307.5 L159.5 318.7" stroke="#fff" stroke-width="2.2"/></svg>
<div class="t" id="v1" style="left:184px;top:304.8px;font-size:14.6px;color:#53b987">6.895M</div>
<div class="t" id="v2" style="left:238.6px;top:304.8px;font-size:14.6px;color:#2196f3">1.635M</div>
<div class="t" id="wm" style="left:70.3px;top:392px;font-size:16.6px;letter-spacing:0.4px;color:#42a5f5;-webkit-text-stroke:0.45px #42a5f5;text-shadow:0 0 1px #fff,0 0 2px #fff,0 0 2px #fff,0 0 3px #fff,0 0 3px #fff,0 0 4px #fff,2px 0 2px #fff,-2px 0 2px #fff,0 2px 2px #fff,0 -2px 2px #fff">Chart by TradingView</div>
</body></html>
